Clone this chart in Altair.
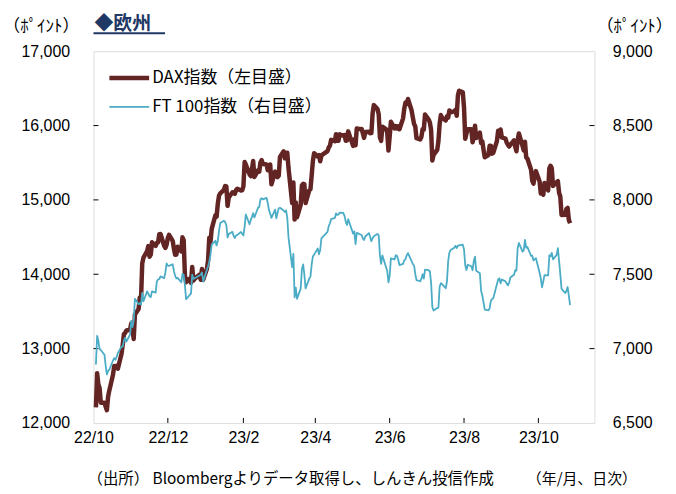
import altair as alt
import pandas as pd

# ---- data ----
dates = (
    [f"2022-10-{d:02d}" for d in [3, 4, 5, 6, 7, 10, 11, 12, 13, 14, 17, 18, 19, 20, 21, 24, 25, 26, 27, 28, 31]]
    + [f"2022-11-{d:02d}" for d in [1, 2, 3, 4, 7, 8, 9, 10, 11, 14, 15, 16, 17, 18, 21, 22, 23, 24, 25, 28, 29, 30]]
    + [f"2022-12-{d:02d}" for d in [1, 2, 5, 6, 7, 8, 9, 12, 13, 14, 15, 16, 19, 20, 21, 22, 23, 27, 28, 29, 30]]
    + [f"2023-01-{d:02d}" for d in [2, 3, 4, 5, 6, 9, 10, 11, 12, 13, 16, 17, 18, 19, 20, 23, 24, 25, 26, 27, 30, 31]]
    + [f"2023-02-{d:02d}" for d in [1, 2, 3, 6, 7, 8, 9, 10, 13, 14, 15, 16, 17, 20, 21, 22, 23, 24, 27, 28]]
    + [f"2023-03-{d:02d}" for d in [1, 2, 3, 6, 7, 8, 9, 10, 13, 14, 15, 16, 17, 20, 21, 22, 23, 24, 27, 28, 29, 30, 31]]
    + [f"2023-04-{d:02d}" for d in [3, 4, 5, 6, 11, 12, 13, 14, 17, 18, 19, 20, 21, 24, 25, 26, 27, 28]]
    + [f"2023-05-{d:02d}" for d in [2, 3, 4, 5, 8, 9, 10, 11, 12, 15, 16, 17, 18, 19, 22, 23, 24, 25, 26, 29, 30, 31]]
    + [f"2023-06-{d:02d}" for d in [1, 2, 5, 6, 7, 8, 9, 12, 13, 14, 15, 16, 19, 20, 21, 22, 23, 26, 27, 28, 29, 30]]
    + [f"2023-07-{d:02d}" for d in [3, 4, 5, 6, 7, 10, 11, 12, 13, 14, 17, 18, 19, 20, 21, 24, 25, 26, 27, 28, 31]]
    + [f"2023-08-{d:02d}" for d in [1, 2, 3, 4, 7, 8, 9, 10, 11, 14, 15, 16, 17, 18, 21, 22, 23, 24, 25, 28, 29, 30, 31]]
    + [f"2023-09-{d:02d}" for d in [1, 4, 5, 6, 7, 8, 11, 12, 13, 14, 15, 18, 19, 20, 21, 22, 25, 26, 27, 28, 29]]
    + [f"2023-10-{d:02d}" for d in [2, 3, 4, 5, 6, 9, 10, 11, 12, 13, 16, 17, 18, 19, 20, 23, 24, 25, 26, 27]]
)

dax = [
    12209, 12670, 12517, 12471, 12273, 12272, 12219, 12172, 12355, 12438, 12649, 12765, 12741, 12767, 12731, 12931, 13052, 13195, 13211, 13243, 13253,
    13338, 13256, 13130, 13460, 13533, 13688, 13666, 14146, 14224, 14313, 14378, 14234, 14266, 14431, 14380, 14422, 14428, 14539, 14541, 14383, 14355, 14397,
    14490, 14529, 14448, 14343, 14261, 14264, 14370, 14306, 14497, 14460, 13986, 13893, 13942, 13884, 14097, 13914, 13940, 13995, 13925, 14071, 13924,
    14069, 14181, 14490, 14436, 14610, 14792, 14774, 14948, 15058, 15087, 15134, 15187, 15181, 14920, 15033, 15103, 15093, 15082, 15132, 15150, 15126, 15128,
    15181, 15509, 15476, 15345, 15321, 15412, 15523, 15308, 15397, 15380, 15506, 15534, 15482, 15477, 15398, 15400, 15476, 15210, 15381, 15365,
    15306, 15327, 15578, 15654, 15559, 15631, 15633, 15428, 14959, 15233, 14735, 14967, 14768, 14933, 15195, 15216, 15211, 14957, 15128, 15142, 15329, 15522, 15629,
    15581, 15603, 15520, 15598, 15656, 15704, 15730, 15808, 15790, 15883, 15796, 15795, 15882, 15863, 15872, 15795, 15800, 15922,
    15727, 15815, 15735, 15961, 15952, 15955, 15896, 15834, 15914, 15917, 15897, 15898, 16164, 16275, 16223, 16152, 15842, 15794, 15984, 15952, 15909, 15664,
    15853, 16051, 15963, 15993, 15961, 15989, 15950, 16097, 16231, 16311, 16290, 16358, 16202, 16111, 16023, 15988, 15830, 15813, 15846, 15949, 15946, 16148,
    16081, 16039, 15938, 15529, 15603, 15673, 15791, 16023, 16141, 16105, 16068, 16125, 16108, 16204, 16177, 16190, 16211, 16131, 16406, 16469, 16447,
    16240, 15821, 15893, 15951, 15950, 15775, 15852, 15997, 15832, 15904, 15767, 15789, 15676, 15574, 15603, 15729, 15729, 15622, 15632, 15792, 15931, 15891, 15947,
    15840, 15825, 15772, 15741, 15718, 15740, 15800, 15715, 15654, 15805, 15893, 15727, 15664, 15782, 15571, 15557, 15405, 15255, 15218, 15323, 15387,
    15247, 15085, 15100, 15070, 15229, 15128, 15423, 15460, 15425, 15187, 15237, 15251, 15094, 15045, 14798, 14800, 14879, 14892, 14731, 14687,
]

ftse = [
    6893, 7086, 7052, 6997, 6991, 6959, 6885, 6826, 6850, 6858, 6920, 6936, 6925, 6944, 6970, 7013, 7013, 7056, 7073, 7047, 7095,
    7186, 7144, 7189, 7335, 7299, 7306, 7296, 7375, 7318, 7385, 7369, 7352, 7346, 7385, 7376, 7452, 7465, 7467, 7486, 7474, 7512, 7573,
    7558, 7556, 7567, 7521, 7489, 7472, 7476, 7446, 7503, 7495, 7427, 7332, 7361, 7370, 7497, 7469, 7473, None, 7497, 7512, 7452,
    None, 7554, 7585, 7633, 7699, 7725, 7694, 7725, 7794, 7844, 7860, 7851, 7831, 7747, 7770, 7785, 7757, 7744, 7761, 7765, 7784, 7772,
    7761, 7820, 7902, 7836, 7864, 7885, 7911, 7882, 7947, 7954, 8003, 8012, 8004, 8014, 7979, 7931, 7907, 7879, 7935, 7876,
    7914, 7944, 7947, 7929, 7919, 7929, 7879, 7748, 7548, 7637, 7345, 7410, 7335, 7403, 7536, 7566, 7499, 7405, 7471, 7484, 7564, 7620, 7632,
    7673, 7634, 7663, 7742, 7785, 7824, 7843, 7871, 7879, 7909, 7899, 7902, 7914, 7912, 7891, 7852, 7831, 7870,
    7773, 7788, 7703, 7778, None, 7764, 7741, 7730, 7754, 7777, 7751, 7722, 7742, 7756, 7771, 7762, 7627, 7570, 7627, None, 7522, 7446,
    7490, 7607, 7600, 7628, 7624, 7599, 7562, 7570, 7594, 7602, 7628, 7642, 7588, 7569, 7559, 7502, 7461, 7453, 7469, 7500, 7471, 7531,
    7527, 7519, 7442, 7280, 7256, 7273, 7275, 7416, 7440, 7434, 7406, 7453, 7588, 7646, 7663, 7679, 7691, 7676, 7692, 7694, 7699,
    7666, 7561, 7529, 7564, 7554, 7527, 7587, 7618, 7524, 7507, 7389, 7357, 7310, 7262, 7257, 7270, 7320, 7333, 7338, None, 7465, 7473, 7439,
    7465, 7452, 7437, 7426, 7442, 7478, 7497, 7527, 7525, 7673, 7711, 7652, 7660, 7731, 7678, 7683, 7624, 7625, 7593, 7601, 7608,
    7510, 7470, 7412, 7451, 7494, 7492, 7628, 7620, 7644, 7600, 7630, 7675, 7588, 7499, 7402, 7374, 7387, 7414, 7354, 7292,
]

left_ticks = [12000, 13000, 14000, 15000, 16000, 17000]
right_ticks = [6500, 7000, 7500, 8000, 8500, 9000]
x_tick_dates = ["2022-10-01", "2022-12-01", "2023-02-01", "2023-04-01", "2023-06-01", "2023-08-01", "2023-10-01"]

title_text = "◆欧州"
unit_text = "（ﾎﾟｲﾝﾄ）"
legend_labels = ["DAX指数（左目盛）", "FT 100指数（右目盛）"]
source_text = "（出所） Bloombergよりデータ取得し、しんきん投信作成"
period_text = "（年/月、日次）"

DAX_COLOR = "#632523"
FTSE_COLOR = "#4BACC6"
NAVY = "#1F3864"
JP_FONT = "Noto Sans CJK JP"
NUM_FONT = "Liberation Sans"

W, H = 504, 374

df = pd.DataFrame({"date": dates, "dax": dax, "ftse": ftse})
dax_df = df[["date", "dax"]].dropna()
ftse_df = df[["date", "ftse"]].dropna()


def dt(s):
    y, m, d = (int(v) for v in s.split("-"))
    return alt.DateTime(year=y, month=m, date=d, utc=True)


x_scale = alt.Scale(type="utc", domain=[dt("2022-10-01"), dt("2023-11-16")])
x_axis = alt.Axis(
    values=[dt(s) for s in x_tick_dates], format="%y/%-m", ticks=False, domain=False, grid=False,
    labelPadding=7, labelFlush=False, labelOverlap=False, labelFont=NUM_FONT, labelFontSize=16,
    labelColor="black", title=None,
)

left_scale = alt.Scale(domain=[12000, 17000], nice=False, zero=False)
left_axis = alt.Axis(
    orient="left", values=left_ticks, format=",.0f", ticks=False, domain=False, grid=False,
    labelPadding=24, labelFont=NUM_FONT, labelFontSize=16, labelColor="black",
    title=unit_text, titleAngle=0, titleX=-53, titleY=-25, titleAlign="center", titleBaseline="middle",
    titleFont=JP_FONT, titleFontSize=17, titleFontWeight="normal", titleColor="black",
)
right_scale = alt.Scale(domain=[6500, 9000], nice=False, zero=False)
right_axis = alt.Axis(
    orient="right", values=right_ticks, format=",.0f", ticks=False, domain=False, grid=False,
    labelPadding=18, labelFont=NUM_FONT, labelFontSize=16, labelColor="black",
    title=unit_text, titleAngle=0, titleX=40, titleY=-25, titleAlign="center", titleBaseline="middle",
    titleFont=JP_FONT, titleFontSize=17, titleFontWeight="normal", titleColor="black",
)

X = alt.X("date:T", scale=x_scale, axis=x_axis)

dax_line = alt.Chart(dax_df).mark_line(color=DAX_COLOR, strokeWidth=4.5, strokeJoin="round").encode(
    x=X, y=alt.Y("dax:Q", scale=left_scale, axis=left_axis)
)
left_tick_marks = alt.Chart(pd.DataFrame({"dax": left_ticks[1:-1]})).mark_rule(color="black", strokeWidth=1).encode(
    y=alt.Y("dax:Q", scale=left_scale, axis=left_axis), x=alt.value(0), x2=alt.value(5)
)
bottom_tick_marks = alt.Chart(pd.DataFrame({"date": x_tick_dates[1:]})).mark_rule(color="black", strokeWidth=1).encode(
    x=X, y=alt.value(H), y2=alt.value(H - 5)
)
dax_group = alt.layer(dax_line, left_tick_marks, bottom_tick_marks)

ftse_line = alt.Chart(ftse_df).mark_line(color=FTSE_COLOR, strokeWidth=1.8, strokeJoin="round").encode(
    x=X, y=alt.Y("ftse:Q", scale=right_scale, axis=right_axis)
)
right_tick_marks = alt.Chart(pd.DataFrame({"ftse": right_ticks[1:-1]})).mark_rule(color="black", strokeWidth=1).encode(
    y=alt.Y("ftse:Q", scale=right_scale, axis=right_axis), x=alt.value(W), x2=alt.value(W - 5)
)
ftse_group = alt.layer(ftse_line, right_tick_marks)

one = pd.DataFrame({"k": [0]})


def text(t, x, y, size, font=JP_FONT, color="black", weight="normal"):
    return alt.Chart(one).mark_text(
        text=t, align="left", baseline="middle", font=font, fontSize=size, color=color, fontWeight=weight
    ).encode(x=alt.value(x), y=alt.value(y))


def rule(x1, x2, y, color, width):
    return alt.Chart(one).mark_rule(color=color, strokeWidth=width).encode(
        x=alt.value(x1), x2=alt.value(x2), y=alt.value(y)
    )


deco = alt.layer(
    text(title_text, 1, -27, 19, color=NAVY, weight="bold"),
    rule(0, 72, -18, NAVY, 2),
    rule(16, 56, 27, DAX_COLOR, 4.5),
    text(legend_labels[0], 59, 27, 17),
    rule(16, 56, 56, FTSE_COLOR, 1.8),
    text(legend_labels[1], 59, 56, 17),
    text(source_text, -6, 430, 15.5),
    text(period_text, 436, 430, 15),
)

chart = (
    alt.layer(dax_group, ftse_group, deco)
    .resolve_scale(y="independent")
    .properties(
        width=W, height=H,
        autosize=alt.AutoSizeParams(type="none"),
        padding={"left": 86, "top": 42, "right": 74, "bottom": 68},
    )
    .configure_view(stroke="black", strokeWidth=1.5)
    .configure(background="white")
)

chart.save("out.html", embed_options={"renderer": "svg", "actions": False})
